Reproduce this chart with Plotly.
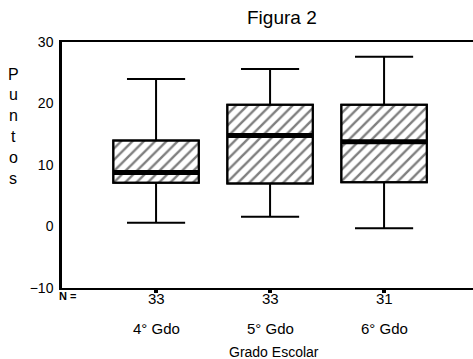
import plotly.graph_objects as go

categories = ["4° Gdo", "5° Gdo", "6° Gdo"]
n_counts = [33, 33, 31]
lower_whisker = [0.6, 1.6, -0.3]
q1 = [7.1, 7.0, 7.2]
median = [8.8, 14.8, 13.8]
q3 = [14.0, 19.8, 19.8]
upper_whisker = [24.0, 25.6, 27.6]
y_ticks = [-10, 0, 10, 20, 30]

FONT = "Liberation Sans, Arial, sans-serif"
xs = list(range(len(categories)))
BOX_W = 0.75

fig = go.Figure()

# hatched box bodies
fig.add_trace(go.Bar(
    x=xs, base=q1, y=[b - a for a, b in zip(q1, q3)], width=BOX_W,
    marker=dict(color="white", line=dict(color="black", width=2),
                pattern=dict(shape="/", fgcolor="black", bgcolor="white",
                             size=8, solidity=0.3)),
    hoverinfo="skip", showlegend=False))

# box outline + whiskers
fig.add_trace(go.Box(
    x=xs, q1=q1, median=median, q3=q3, lowerfence=lower_whisker,
    upperfence=upper_whisker, width=BOX_W, whiskerwidth=0.68,
    fillcolor="rgba(0,0,0,0)", line=dict(color="black", width=2),
    boxpoints=False, showlegend=False))

# thick median bars
mx, my = [], []
for i, m in zip(xs, median):
    mx += [i - BOX_W / 2, i + BOX_W / 2, None]
    my += [m, m, None]
fig.add_trace(go.Scatter(x=mx, y=my, mode="lines",
                         line=dict(color="black", width=5),
                         hoverinfo="skip", showlegend=False))

annotations = []
# N row
annotations.append(dict(x=5 / 411, y=0, xref="paper", yref="paper", text="<b>N =</b>",
                        showarrow=False, xanchor="center", yanchor="middle",
                        yshift=-8, font=dict(family=FONT, size=11, color="black")))
for i, n in zip(xs, n_counts):
    annotations.append(dict(x=i, y=0, xref="x", yref="paper", text=str(n),
                            showarrow=False, yanchor="middle", yshift=-10,
                            font=dict(family=FONT, size=15, color="black")))

for i, c in zip(xs, categories):
    annotations.append(dict(x=i, y=0, xref="x", yref="paper", text=c,
                            showarrow=False, yanchor="middle", yshift=-40.5,
                            font=dict(family=FONT, size=15, color="black")))

annotations.append(dict(x=(274 - 62) / 411, y=0, xref="paper", yref="paper",
                        text="Grado Escolar", showarrow=False, yanchor="middle",
                        yshift=-64, font=dict(family=FONT, size=14, color="black")))
annotations.append(dict(x=(282 - 62) / 411, y=1, xref="paper", yref="paper",
                        text="Figura 2", showarrow=False, yanchor="middle",
                        yshift=25, font=dict(family=FONT, size=19, color="black")))
for k, ch in enumerate("Puntos"):
    annotations.append(dict(x=-49 / 411, y=1, xref="paper", yref="paper",
                            text=ch, showarrow=False, yanchor="middle",
                            xanchor="center", yshift=-(32 + 20.8 * k),
                            font=dict(family=FONT, size=16, color="black")))

fig.update_layout(
    width=473, height=359,
    margin=dict(l=62, r=0, t=42, b=71),
    paper_bgcolor="white", plot_bgcolor="white",
    barmode="overlay", boxmode="overlay",
    showlegend=False,
    annotations=annotations,
    xaxis=dict(range=[-0.825, 2.78], showgrid=False, zeroline=False,
               showline=True, mirror=True, linecolor="black", linewidth=2,
               tickvals=xs, ticktext=["" for _ in xs], ticks="outside",
               ticklen=3, tickwidth=4, tickcolor="black"),
    yaxis=dict(range=[-10, 30], tickvals=y_ticks, showgrid=False,
               zeroline=False, showline=True, linecolor="black", linewidth=2.5,
               ticks="", ticklabelstandoff=3,
               tickfont=dict(family=FONT, size=14, color="black")),
)

fig.write_html("out.html", config={"displayModeBar": False},
               post_script="document.body.style.margin='0';document.body.style.padding='0';")
